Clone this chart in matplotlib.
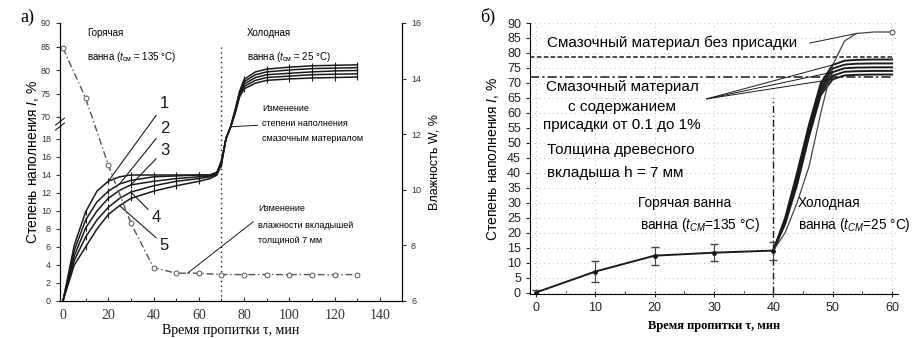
import numpy as np
import matplotlib
matplotlib.use('Agg')
import matplotlib.pyplot as plt
from matplotlib import ticker

plt.rcParams['font.family'] = ['Liberation Sans', 'DejaVu Sans']
plt.rcParams['mathtext.fontset'] = 'custom'
plt.rcParams['mathtext.rm'] = 'Liberation Sans'
plt.rcParams['mathtext.it'] = 'Liberation Sans:italic'

# ---- panel a) data ----
t_a = [0, 5, 10, 15, 20, 25, 30, 40, 50, 60, 65, 68, 70, 72, 74, 76, 78, 80, 85, 90, 100, 110, 120, 130]
curve1 = [0, 6.2, 9.9, 12.2, 13.3, 13.8, 14.0, 14.0, 14.0, 14.0, 14.0, 14.3, 15.6, 19.6, 47, 71.5, 75.5, 78.0, 79.6, 80.2, 80.6, 80.9, 81.0, 81.1]
curve2 = [0, 5.6, 9.0, 11.0, 12.2, 13.0, 13.4, 13.8, 13.9, 14.0, 14.0, 14.3, 15.5, 19.5, 46.5, 71.3, 75.2, 77.5, 79.0, 79.6, 80.0, 80.3, 80.4, 80.5]
curve3 = [0, 5.0, 8.1, 10.0, 11.4, 12.3, 12.9, 13.3, 13.6, 13.8, 13.9, 14.2, 15.4, 19.4, 46, 71.1, 74.9, 77.0, 78.4, 79.0, 79.3, 79.6, 79.8, 79.9]
curve4 = [0, 4.5, 7.1, 9.0, 10.4, 11.4, 12.1, 12.8, 13.3, 13.6, 13.8, 14.1, 15.3, 19.3, 45.5, 70.9, 74.6, 76.5, 77.8, 78.4, 78.7, 79.0, 79.1, 79.2]
curve5 = [0, 4.0, 6.0, 8.0, 9.6, 10.6, 11.4, 12.2, 12.8, 13.3, 13.6, 14.0, 15.2, 19.2, 45, 70.7, 74.3, 76.0, 77.2, 77.8, 78.1, 78.3, 78.4, 78.5]
curves_a = [curve1, curve2, curve3, curve4, curve5]
mark_idx = [2, 4, 6, 7, 8, 9, 12, 17, 19, 20, 21, 22, 23]

t_w = [0, 10, 20, 30, 40, 50, 60, 70, 80, 90, 100, 110, 120, 130]
moist = [15.1, 13.3, 10.9, 8.8, 7.2, 7.0, 7.0, 6.95, 6.95, 6.95, 6.95, 6.95, 6.95, 6.95]

yticks_a = [0, 2, 4, 6, 8, 10, 12, 14, 16, 18, 70, 75, 80, 85, 90]

# ---- panel b) data ----
t_hot = [0, 10, 20, 30, 40]
fill_hot = [0, 7, 12.3, 13.3, 14]
err_hot = [0.8, 3.5, 3.0, 2.8, 3.0]

t_cold = [40, 42, 44, 46, 48, 50, 52, 54, 57, 60]
bund1 = [14, 25, 40, 56, 70, 76, 77.4, 77.7, 77.8, 77.8]
bund2 = [14, 24.5, 39, 55, 69, 74.8, 76.1, 76.4, 76.5, 76.5]
bund3 = [14, 24, 38, 54, 68, 73.6, 74.9, 75.1, 75.2, 75.2]
bund4 = [14, 23.5, 37, 53, 67, 72.4, 73.7, 73.9, 74.0, 74.0]
bund5 = [14, 23, 36, 52, 66, 71.2, 72.5, 72.7, 72.8, 72.8]
bundles = [bund1, bund2, bund3, bund4, bund5]
no_additive = [14, 20, 30, 42, 60, 76, 84, 86.5, 87, 87]
level_pure = 78.5
level_add = 72


def fwd(y):
    y = np.asarray(y, dtype=float)
    return np.where(y <= 18, 9 * y,
                    np.where(y < 70, 162 + (y - 18) * 22 / 52, 184 + (y - 70) * 4.7))


def inv(p):
    p = np.asarray(p, dtype=float)
    return np.where(p <= 162, p / 9,
                    np.where(p < 184, 18 + (p - 162) * 52 / 22, 70 + (p - 184) / 4.7))


fig = plt.figure(figsize=(9.16, 3.38), dpi=100)
ink = '#1a1a1a'

# ================= panel a =================
ax = fig.add_axes([60 / 916, 37 / 338, 342 / 916, 278 / 338])
ax.set_yscale('function', functions=(fwd, inv))
for c in curves_a:
    ax.plot(t_a, c, color=ink, lw=1.1, marker='|', ms=5, mew=0.8, markevery=mark_idx)
ax.vlines(70, 0, 85, colors=ink, linestyles=(0, (1, 2.5)), lw=1)
ax.set_xlim(-1.3, 149.7)
ax.set_ylim(0, 90)
ax.set_yticks(yticks_a)
ax.yaxis.set_major_formatter(ticker.StrMethodFormatter('{x:.0f}'))
ax.yaxis.set_minor_locator(ticker.NullLocator())
ax.set_xticks(range(0, 141, 20))
ax.xaxis.set_minor_locator(ticker.MultipleLocator(10))
ax.tick_params(axis='x', direction='in', length=3, labelsize=10, colors='#333', pad=6)
ax.tick_params(axis='x', which='minor', direction='in', length=2)
ax.tick_params(axis='y', direction='out', length=3, labelsize=6.5, colors='#333')
for lab in ax.get_xticklabels():
    lab.set_family(['Liberation Serif', 'DejaVu Serif'])
ax.spines['top'].set_visible(False)
ax.set_xlabel('Время пропитки τ, мин', family=['Liberation Serif', 'DejaVu Serif'],
              fontsize=10, labelpad=1)
ax.set_ylabel('Степень наполнения $I$, %', fontsize=10, labelpad=0)
# axis break marks
for dy in (0.0, 0.018):
    ax.plot([-0.013, 0.013], [0.615 + dy, 0.640 + dy], transform=ax.transAxes,
            color=ink, lw=0.8, clip_on=False)

ax2 = ax.twinx()
ax2.plot(t_w, moist, color='#555', lw=1, linestyle=(0, (5, 2, 1, 2)),
         marker='o', ms=3.5, mfc='white', mew=0.7)
ax2.set_ylim(6, 16)
ax2.set_yticks(range(6, 17, 2))
ax2.tick_params(axis='y', direction='out', length=3, labelsize=6.5, colors='#333')
ax2.spines['top'].set_visible(False)
ax2.set_ylabel('Влажность W, %', fontsize=9, labelpad=5)

small = 7
ax.text(0.079, 0.964, 'Горячая', transform=ax.transAxes, fontsize=small, va='center')
ax.text(0.079, 0.878, 'ванна ($t_{\\mathrm{см}}$ = 135 °C)', transform=ax.transAxes,
        fontsize=small, va='center')
ax.text(0.547, 0.964, 'Холодная', transform=ax.transAxes, fontsize=small, va='center')
ax.text(0.547, 0.878, 'ванна ($t_{\\mathrm{см}}$ = 25 °C)', transform=ax.transAxes,
        fontsize=small, va='center')
for txt, yy in [('Изменение', 0.694), ('степени наполнения', 0.640),
                ('смазочным материалом', 0.583)]:
    ax.text(0.591, yy, txt, transform=ax.transAxes, fontsize=6.5, va='center')
for txt, yy in [('Изменение', 0.331), ('влажности вкладышей', 0.273),
                ('толщиной 7 мм', 0.219)]:
    ax.text(0.579, yy, txt, transform=ax.transAxes, fontsize=6.5, va='center')

line_kw = dict(arrowstyle='-', color=ink, lw=0.7, shrinkA=0, shrinkB=0)
ax.annotate('', xy=(t_a[14], curve1[14]), xytext=(0.578, 0.632),
            textcoords='axes fraction', arrowprops=line_kw)
ax2.annotate('', xy=(55, 7.0), xytext=(0.565, 0.285),
             textcoords='axes fraction', arrowprops=line_kw)

num_pos = [(0.292, 0.709), (0.292, 0.622), (0.292, 0.543), (0.269, 0.299), (0.292, 0.201)]
num_target = [4, 5, 6, 6, 5]
for k, ((px, py), ti) in enumerate(zip(num_pos, num_target)):
    c = curves_a[k]
    ax.annotate(str(k + 1), xy=(t_a[ti], c[ti]), xytext=(px, py), textcoords='axes fraction',
                fontsize=12, ha='left', va='center', color=ink,
                arrowprops=dict(arrowstyle='-', color=ink, lw=0.8, shrinkA=1, shrinkB=0))

fig.text(20 / 916, 1 - 17 / 338, 'а)', family=['Liberation Serif', 'DejaVu Serif'],
         fontsize=13, va='center')

# ================= panel b =================
bx = fig.add_axes([530 / 916, 44 / 338, 368 / 916, 271 / 338])
bx.grid(True, color='#c8c8c8', linestyle=(0, (1, 3)), lw=0.8)
bx.set_axisbelow(True)
bx.hlines(level_pure, -1, 60, colors=ink, linestyles=(0, (3, 1.5)), lw=1.1)
bx.hlines(level_add, -1, 60, colors=ink, linestyles=(0, (6, 2, 1.5, 2)), lw=1.1)
bx.vlines(40, 0, 65, colors=ink, linestyles=(0, (5, 2, 1, 2)), lw=1)
bx.errorbar(t_hot, fill_hot, yerr=err_hot, color=ink, lw=1.4, ecolor='#444',
            elinewidth=0.8, capsize=3, marker='o', ms=2.5)
for b in bundles:
    bx.plot(t_cold, b, color=ink, lw=1.4)
bx.plot(t_cold, no_additive, color='#444', lw=0.9, marker='o', ms=3.5, mfc='white',
        mew=0.7, markevery=[9])
bx.set_xlim(-1, 61)
bx.set_ylim(-0.5, 90)
bx.set_xticks(range(0, 61, 10))
bx.set_yticks(range(0, 91, 5))
bx.xaxis.set_minor_locator(ticker.MultipleLocator(5))
bx.tick_params(axis='both', labelsize=9, colors='#222')
bx.tick_params(axis='x', direction='inout', length=5)
bx.tick_params(axis='x', which='minor', direction='in', length=2)
bx.tick_params(axis='y', direction='out', length=3)
bx.spines['top'].set_visible(False)
bx.spines['right'].set_visible(False)
bx.set_xlabel('Время пропитки τ, мин', family=['Liberation Serif', 'DejaVu Serif'],
              fontsize=9, fontweight='bold', labelpad=4)
bx.set_ylabel('Степень наполнения $I$, %', fontsize=10, labelpad=4)

big = 11
bx.text(0.046, 0.926, 'Смазочный материал без присадки', transform=bx.transAxes,
        fontsize=big, va='center')
for txt, yy in [('Смазочный материал', 0.764), ('с содержанием', 0.690),
                ('присадки от 0.1 до 1%', 0.624)]:
    bx.text(0.25, yy, txt, transform=bx.transAxes, fontsize=big, va='center', ha='center')
bx.text(0.046, 0.531, 'Толщина древесного', transform=bx.transAxes, fontsize=big, va='center')
bx.text(0.046, 0.446, 'вкладыша h = 7 мм', transform=bx.transAxes, fontsize=big, va='center')
mid = 9.8
bx.text(0.293, 0.336, 'Горячая ванна', transform=bx.transAxes, fontsize=mid, va='center')
bx.text(0.299, 0.255, 'ванна ($t_{СМ}$=135 °C)', transform=bx.transAxes, fontsize=mid,
        va='center')
bx.text(0.727, 0.336, 'Холодная', transform=bx.transAxes, fontsize=mid, va='center')
bx.text(0.727, 0.255, 'ванна ($t_{СМ}$=25 °C)', transform=bx.transAxes, fontsize=mid,
        va='center')

bx.annotate('', xy=(t_cold[7], no_additive[7]), xytext=(0.76, 0.926),
            textcoords='axes fraction', arrowprops=line_kw)
for b in (bund1, bund3, bund5):
    bx.annotate('', xy=(t_cold[5], b[5]), xytext=(0.48, 0.72),
                textcoords='axes fraction', arrowprops=line_kw)

fig.text(480 / 916, 1 - 17 / 338, 'б)', family=['Liberation Serif', 'DejaVu Serif'],
         fontsize=13, va='center')

fig.savefig('out.png', dpi=100)
